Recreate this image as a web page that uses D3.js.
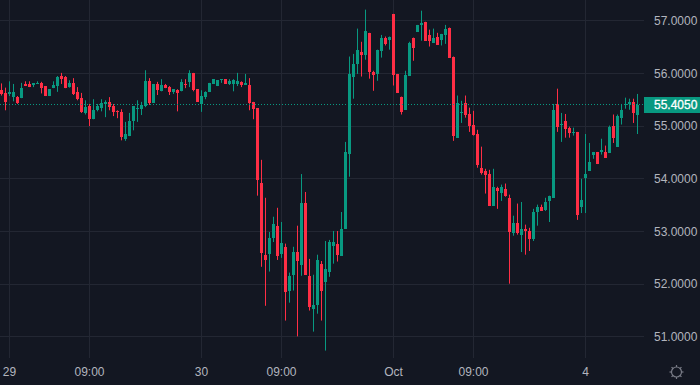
<!DOCTYPE html>
<html>
<head>
<meta charset="utf-8">
<script src="https://cdn.jsdelivr.net/npm/d3@7"></script>
<style>
html,body{margin:0;padding:0;background:#131722;overflow:hidden}
svg{display:block}
text{font-family:"Liberation Sans",Arial,sans-serif;font-size:12px}
</style>
</head>
<body>
<svg id="chart" width="700" height="385"></svg>
<script>
const opens = [
55.68,55.62,55.60,55.55,55.55,55.53,55.80,55.80,55.78,55.80,
55.82,55.76,55.57,55.72,55.76,55.95,55.93,55.74,55.82,55.65,
55.53,55.25,55.38,55.13,55.30,55.34,55.42,55.46,55.38,55.28,
55.27,54.75,54.81,55.09,55.32,55.32,55.38,55.85,55.44,55.80,
55.66,55.78,55.74,55.65,55.68,55.66,55.80,55.84,56.01,55.70,
55.42,55.55,55.65,55.80,55.76,55.87,55.89,55.80,55.80,55.80,
55.84,55.78,55.78,55.46,55.34,53.92,52.56,52.58,52.88,53.11,
52.58,52.71,51.88,52.18,52.62,52.37,53.54,52.16,51.52,51.61,
52.39,52.05,52.24,52.73,52.77,52.54,53.05,54.47,55.94,56.18,
56.41,56.34,56.77,56.03,55.99,56.43,56.68,56.64,57.13,55.99,
55.56,55.31,55.96,56.68,56.79,56.91,56.98,56.73,56.58,56.70,
56.64,56.73,56.87,56.32,54.78,55.25,55.44,55.23,55.03,54.85,
54.21,54.15,54.09,53.49,53.83,53.73,53.81,53.64,52.97,53.16,
52.94,53.05,53.01,52.86,53.37,53.47,53.41,53.58,53.64,55.41,
55.03,55.10,54.97,54.87,54.89,53.47,54.02,54.15,54.46,54.51,
54.51,54.51,54.49,55.01,54.61,55.16,55.41,55.41,55.46,55.22];
const closes = [
55.61,55.46,55.64,55.65,55.44,55.72,55.76,55.74,55.81,55.82,
55.72,55.57,55.70,55.78,55.93,55.89,55.72,55.82,55.61,55.51,
55.27,55.36,55.13,55.30,55.38,55.44,55.46,55.36,55.27,55.27,
54.79,54.85,55.09,55.38,55.34,55.40,55.85,55.44,55.80,55.68,
55.78,55.72,55.65,55.70,55.63,55.84,55.78,56.01,55.68,55.46,
55.57,55.65,55.82,55.89,55.87,55.89,55.80,55.85,55.87,55.85,
55.78,55.82,55.44,55.32,53.98,52.60,52.46,52.88,53.15,52.54,
52.79,51.86,52.16,52.62,52.44,53.54,52.18,51.56,51.61,52.46,
51.88,52.29,52.80,52.80,52.56,53.05,54.51,55.99,56.18,56.45,
56.34,56.81,56.03,55.97,56.45,56.68,56.56,56.70,55.97,55.63,
55.27,55.97,56.58,56.49,56.92,56.96,56.62,56.62,56.68,56.54,
56.75,56.85,56.30,54.82,55.44,55.27,55.22,55.01,54.84,54.27,
54.11,54.08,53.49,53.85,53.77,53.85,53.68,52.99,53.16,52.97,
53.05,53.01,52.86,53.37,53.47,53.39,53.56,53.68,55.31,54.99,
55.04,54.95,54.87,54.89,53.32,53.60,54.09,54.32,54.51,54.28,
54.55,54.40,54.99,54.78,55.20,55.31,55.42,55.46,55.25,55.405];
const highs = [
55.81,55.73,55.85,55.80,55.57,55.82,55.85,55.85,55.81,55.85,
55.84,55.76,55.70,55.85,55.95,56.01,55.95,55.87,55.91,55.74,
55.63,55.49,55.42,55.51,55.42,55.51,55.49,55.55,55.42,55.30,
55.32,55.08,55.25,55.38,55.49,55.46,56.06,55.91,55.80,55.84,
55.89,55.80,55.76,55.70,55.70,55.89,55.89,56.06,56.01,55.70,
55.68,55.66,55.82,55.89,55.87,55.89,55.89,55.89,55.89,56.01,
55.85,55.99,55.91,55.46,55.34,54.36,53.64,52.99,53.28,53.45,
53.18,52.77,52.22,52.71,53.11,54.09,53.75,52.48,52.18,52.56,
52.44,52.82,52.84,53.01,53.01,53.37,54.70,56.32,56.37,56.85,
56.60,57.21,56.77,56.05,56.45,56.73,56.70,56.70,57.13,55.99,
55.56,56.05,56.60,56.68,56.92,57.19,56.98,56.83,56.85,56.77,
56.75,56.92,56.87,56.32,55.58,55.48,55.58,55.35,55.29,54.93,
54.61,54.19,54.17,54.19,53.85,53.89,53.91,53.70,53.30,53.53,
53.56,53.13,53.07,53.43,53.51,53.51,53.64,53.68,55.42,55.71,
55.25,55.23,54.99,54.97,54.89,54.00,54.85,54.68,54.51,54.51,
54.76,54.63,55.01,55.22,55.22,55.42,55.54,55.52,55.52,55.61];
const lows = [
55.58,55.30,55.57,55.47,55.42,55.53,55.76,55.74,55.74,55.80,
55.62,55.57,55.57,55.72,55.65,55.80,55.72,55.73,55.59,55.49,
55.25,55.22,55.00,55.13,55.28,55.28,55.17,55.30,55.19,55.15,
54.73,54.72,54.81,54.92,55.08,55.21,55.36,55.40,55.44,55.59,
55.66,55.72,55.59,55.61,55.28,55.66,55.72,55.74,55.66,55.46,
55.27,55.51,55.65,55.80,55.76,55.82,55.80,55.78,55.66,55.76,
55.74,55.78,55.30,55.13,53.68,52.33,51.59,52.24,52.80,52.46,
52.50,51.31,51.65,51.88,51.01,52.16,52.18,51.50,51.10,51.44,
51.31,50.74,52.14,52.39,52.43,52.54,53.05,54.04,55.52,55.99,
55.94,56.26,55.90,55.67,55.86,56.30,56.53,56.45,55.77,55.63,
55.22,55.31,55.96,56.24,56.79,56.62,56.62,56.51,56.58,56.54,
56.53,56.56,56.30,54.72,54.78,55.06,55.16,54.89,54.82,54.21,
54.08,53.72,53.49,53.49,53.43,53.58,53.66,52.01,52.92,52.94,
52.61,52.56,52.63,52.82,53.11,53.39,53.39,53.18,53.64,54.89,
54.70,54.78,54.78,54.82,53.22,53.35,53.35,54.15,54.38,54.28,
54.46,54.40,54.49,54.68,54.61,55.03,55.33,55.31,55.06,54.85];
const priceTicks = [57, 56, 55, 54, 53, 52, 51];
const timeTickIndex = [2, 22, 50, 70, 98, 118, 146];
const timeTickLabels = ["29", "09:00", "30", "09:00", "Oct", "09:00", "4"];
const lastPrice = 55.405;

const UP = "#089981", DOWN = "#ff2e45", GRID = "#232733", AXIS = "#b2b5be";
const plotW = 644, plotH = 358;

const x = d3.scaleLinear().domain([0, 1]).range([1.5, 5.5]);
const y = d3.scaleLinear().domain([56, 55]).range([73.4, 126.1]);
const snap = v => Math.round(v - 0.5) + 0.5;

const svg = d3.select("#chart");
svg.append("rect").attr("width", 700).attr("height", 385).attr("fill", "#131722");

const grid = svg.append("g").attr("stroke", GRID).attr("stroke-width", 1);
grid.selectAll("line.h").data(priceTicks).join("line").attr("class", "h")
  .attr("x1", 0).attr("x2", plotW)
  .attr("y1", d => snap(y(d))).attr("y2", d => snap(y(d)));
grid.selectAll("line.v").data(timeTickIndex).join("line").attr("class", "v")
  .attr("y1", 0).attr("y2", plotH)
  .attr("x1", d => x(d)).attr("x2", d => x(d));

const bars = d3.range(opens.length);
const color = i => closes[i] >= opens[i] ? UP : DOWN;
const candles = svg.append("g");
candles.selectAll("line").data(bars).join("line")
  .attr("x1", i => x(i)).attr("x2", i => x(i))
  .attr("y1", i => y(highs[i])).attr("y2", i => y(lows[i]))
  .attr("stroke", color).attr("stroke-width", 1);
candles.selectAll("rect").data(bars).join("rect")
  .attr("x", i => x(i) - 1.5).attr("width", 3)
  .attr("y", i => Math.round(y(Math.max(opens[i], closes[i]))))
  .attr("height", i => Math.max(1, Math.round(y(Math.min(opens[i], closes[i]))) - Math.round(y(Math.max(opens[i], closes[i])))))
  .attr("fill", color);

svg.append("line").attr("x1", 0).attr("x2", plotW)
  .attr("y1", snap(y(lastPrice))).attr("y2", snap(y(lastPrice)))
  .attr("stroke", UP).attr("stroke-width", 1).attr("stroke-dasharray", "1 2");

svg.append("g").selectAll("text").data(priceTicks).join("text")
  .attr("x", 654).attr("y", d => y(d))
  .attr("dy", "0.35em").attr("fill", AXIS)
  .text(d => d3.format(".4f")(d));

svg.append("rect").attr("x", 644).attr("width", 56)
  .attr("y", Math.round(y(lastPrice) - 8)).attr("height", 16).attr("fill", UP);
svg.append("text").attr("x", 654).attr("y", y(lastPrice))
  .attr("dy", "0.35em").attr("fill", "#ffffff")
  .attr("stroke", "#ffffff").attr("stroke-width", 0.3)
  .text(d3.format(".4f")(lastPrice));

svg.append("g").selectAll("text").data(timeTickIndex).join("text")
  .attr("x", d => x(d)).attr("y", 375.5)
  .attr("text-anchor", "middle").attr("fill", AXIS)
  .text((d, i) => timeTickLabels[i]);

const gear = svg.append("g").attr("transform", "translate(676.5,372)")
  .attr("stroke", "#787b86").attr("fill", "none");
gear.append("circle").attr("r", 5).attr("stroke-width", 1.2);
gear.selectAll("line").data(d3.range(8)).join("line")
  .attr("x1", d => 5 * Math.cos(d * Math.PI / 4)).attr("y1", d => 5 * Math.sin(d * Math.PI / 4))
  .attr("x2", d => 7 * Math.cos(d * Math.PI / 4)).attr("y2", d => 7 * Math.sin(d * Math.PI / 4))
  .attr("stroke-width", 1.2);
</script>
</body>
</html>
